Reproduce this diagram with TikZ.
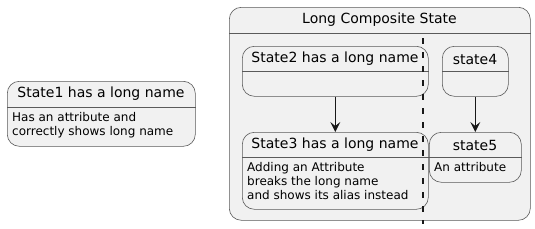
\documentclass[tikz,border=0pt]{standalone}
\usepackage{fontspec}
\setmainfont{DejaVu Sans}
\usetikzlibrary{arrows.meta}

\definecolor{statefill}{HTML}{F1F1F1}
\definecolor{stateline}{HTML}{5A5A5A}
\definecolor{arrowline}{HTML}{181818}

\tikzset{
  statebox/.style={draw=stateline, fill=statefill, line width=0.6pt,
    rounded corners=12pt, inner sep=0pt, anchor=north west},
  headline/.style={draw=stateline, line width=0.6pt},
  titletext/.style={font=\fontsize{14}{16}\selectfont, inner sep=0pt},
  attrtext/.style={font=\fontsize{12}{14}\selectfont, align=left,
    anchor=north west, inner sep=0pt},
  transition/.style={draw=arrowline, line width=1pt,
    -{Stealth[length=10pt, width=10pt, inset=4pt]}},
  concurrent/.style={draw=arrowline, line width=1.2pt, dash pattern=on 6pt off 8pt},
}

\begin{document}
\begin{tikzpicture}[x=1pt, y=-1pt]
  \useasboundingbox (0,0) rectangle (535,228);

  % simple state on the left
  \node[statebox, minimum width=188pt, minimum height=65pt] (s1) at (7,81) {};
  \draw[headline] (s1.west |- 0,107) -- (s1.east |- 0,107);
  \node[titletext] (s1t) at (101,94) {State1 has a long name};
  \node[attrtext] (s1a) at (12,112) {Has an attribute and\\correctly shows long name};

  % composite state
  \node[statebox, minimum width=301pt, minimum height=213pt] (comp) at (229,7) {};
  \draw[headline] (comp.west |- 0,33) -- (comp.east |- 0,33);
  \node[titletext] (compt) at (379.5,20) {Long Composite State};

  % left region
  \node[statebox, minimum width=186pt, minimum height=50pt] (s2) at (242,46) {};
  \draw[headline] (s2.west |- 0,71) -- (s2.east |- 0,71);
  \node[titletext] (s2t) at (335,59) {State2 has a long name};

  \node[statebox, minimum width=186pt, minimum height=77pt] (s3) at (242,132) {};
  \draw[headline] (s3.west |- 0,157) -- (s3.east |- 0,157);
  \node[titletext] (s3t) at (335,145) {State3 has a long name};
  \node[attrtext] (s3a) at (247,162) {Adding an Attribute\\breaks the long name\\and shows its alias instead};

  % right region
  \node[statebox, minimum width=66pt, minimum height=50pt] (s4) at (442,46) {};
  \draw[headline] (s4.west |- 0,71) -- (s4.east |- 0,71);
  \node[titletext] (s4t) at (475,59) {state4};

  \node[statebox, minimum width=92pt, minimum height=50pt] (s5) at (429,132) {};
  \draw[headline] (s5.west |- 0,157) -- (s5.east |- 0,157);
  \node[titletext] (s5t) at (475,145) {state5};
  \node[attrtext] (s5a) at (434,162) {An attribute};

  % transitions
  \draw[transition] (s2.south) -- (s3.north);
  \draw[transition] (s4.south) -- (s4.south |- s5.north);

  % region separator
  \coordinate (sepTop) at (423,38);
  \coordinate (sepBot) at (423,224);
  \draw[concurrent] (sepTop) -- (sepBot);
\end{tikzpicture}
\end{document}
